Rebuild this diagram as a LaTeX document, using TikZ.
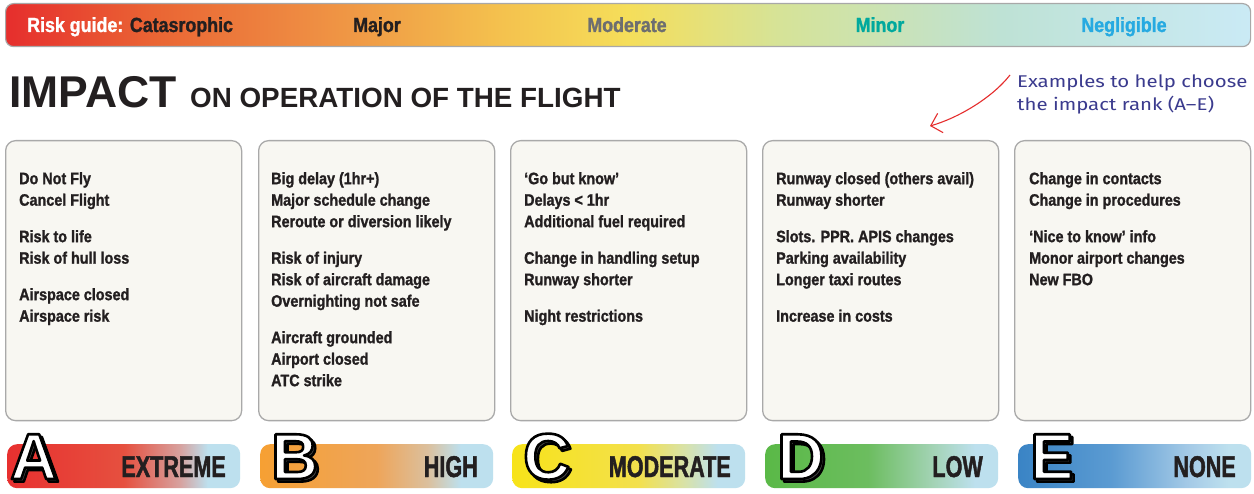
\documentclass[tikz,border=0pt]{standalone}
\usepackage{fontspec}
\setmainfont{Liberation Sans}
\newfontfamily\cond{Liberation Sans Bold}[FakeStretch=0.87, FakeBold=1.3]
\newfontfamily\condB{Liberation Sans Bold}[FakeStretch=0.72, FakeBold=1.5]
\newfontfamily\hand{Fira Sans}[FakeStretch=1.2]
\usetikzlibrary{arrows.meta}
\definecolor{ink}{HTML}{231F20}
\definecolor{bargray}{HTML}{A8A8A8}
\definecolor{boxgray}{HTML}{A9A9A9}
\definecolor{boxfill}{HTML}{F8F7F2}
\definecolor{modgray}{HTML}{6D6E70}
\definecolor{minteal}{HTML}{00A99D}
\definecolor{negblue}{HTML}{27AAE1}
\definecolor{handblue}{HTML}{3B3B8E}
\definecolor{arrred}{HTML}{E52D2D}
\definecolor{tbA}{HTML}{E62E2D}
\definecolor{tbB}{HTML}{EA6534}
\definecolor{tbC}{HTML}{EE8B42}
\definecolor{tbD}{HTML}{F4C24E}
\definecolor{tbE}{HTML}{F5DE5A}
\definecolor{tbF}{HTML}{D6E397}
\definecolor{tbG}{HTML}{BEE2D5}
\definecolor{tbH}{HTML}{CAEAF5}
\definecolor{lblue}{HTML}{BDE0EE}
\definecolor{aA}{HTML}{E8302F}
\definecolor{aB}{HTML}{E6503F}
\definecolor{aC}{HTML}{D7A19E}
\definecolor{bA}{HTML}{F6A033}
\definecolor{bB}{HTML}{EEA55A}
\definecolor{bC}{HTML}{DBC09E}
\definecolor{cA}{HTML}{F7E319}
\definecolor{cB}{HTML}{F3E04C}
\definecolor{cC}{HTML}{D8E2A8}
\definecolor{dA}{HTML}{5AB947}
\definecolor{dB}{HTML}{6CBD5F}
\definecolor{dC}{HTML}{A3D3B5}
\definecolor{eA}{HTML}{3A84C5}
\definecolor{eB}{HTML}{5B9BD2}
\definecolor{eC}{HTML}{A6CBE7}
\pgfdeclarehorizontalshading{topbar}{100bp}{color(0bp)=(tbA); color(25bp)=(tbA); color(31bp)=(tbB); color(37bp)=(tbC); color(45bp)=(tbD); color(50bp)=(tbE); color(56bp)=(tbF); color(65bp)=(tbG); color(75bp)=(tbH); color(100bp)=(tbH)}
\pgfdeclarehorizontalshading{shA}{100bp}{color(0bp)=(aA); color(25bp)=(aA); color(50bp)=(aB); color(62bp)=(aC); color(68bp)=(lblue); color(100bp)=(lblue)}
\pgfdeclarehorizontalshading{shB}{100bp}{color(0bp)=(bA); color(25bp)=(bA); color(50bp)=(bB); color(61bp)=(bC); color(68bp)=(lblue); color(100bp)=(lblue)}
\pgfdeclarehorizontalshading{shC}{100bp}{color(0bp)=(cA); color(25bp)=(cA); color(52bp)=(cB); color(62bp)=(cC); color(69bp)=(lblue); color(100bp)=(lblue)}
\pgfdeclarehorizontalshading{shD}{100bp}{color(0bp)=(dA); color(25bp)=(dA); color(47bp)=(dB); color(61bp)=(dC); color(70bp)=(lblue); color(100bp)=(lblue)}
\pgfdeclarehorizontalshading{shE}{100bp}{color(0bp)=(eA); color(25bp)=(eA); color(45bp)=(eB); color(62bp)=(eC); color(70bp)=(lblue); color(100bp)=(lblue)}
\tikzset{
  topbarbox/.style={draw=bargray, line width=1.2pt, rounded corners=8pt, shading=topbar, minimum width=1245pt, minimum height=43pt, anchor=north west, inner sep=0pt},
  toptext/.style={font=\cond\fontsize{20.5}{24}\selectfont, anchor=base, inner sep=0pt},
  infobox/.style={draw=boxgray, line width=1.3pt, fill=boxfill, rounded corners=10pt, minimum width=236pt, minimum height=280pt, anchor=north west, inner sep=0pt},
  infotext/.style={font=\cond\fontsize{16.5}{21.5}\selectfont, text=ink, align=left, anchor=north west, inner sep=0pt},
  rankbar/.style={rounded corners=10pt, minimum width=233pt, minimum height=44pt, anchor=north west, inner sep=0pt},
  ranklabel/.style={font=\condB\fontsize{30}{34}\selectfont, text=ink, anchor=base east, inner sep=0pt},
  bigletter/.style={font=\bfseries\fontsize{65}{70}\selectfont, anchor=base west, inner sep=0pt},
}
\newcommand{\outl}[1]{\special{pdf:literal direct 2 Tr 2.6 w 1 j 0 0 0 RG}#1\special{pdf:literal direct 0 Tr}}
\newcommand{\rankletter}[4]{% name, x, y, letter
  \node[bigletter, text=black!70] at ({#2+2.6},{#3+2.6}) {\outl{#4}};
  \node[bigletter, text=white] (#1) at (#2,#3) {\outl{#4}};
}
\begin{document}
\begin{tikzpicture}[x=1pt,y=-1pt]
\useasboundingbox (0,0) rectangle (1254,494);
\fill[white] (0,0) rectangle (1254,494);
% rank bars and letters (drawn first so the outline trick sees a clean text state)
\node[rankbar, shading=shA] (rA) at (7,444) {};
\node[rankbar, shading=shB] (rB) at (260,444) {};
\node[rankbar, shading=shC] (rC) at (512,444) {};
\node[rankbar, shading=shD] (rD) at (765,444) {};
\node[rankbar, shading=shE] (rE) at (1018,444) {};
\rankletter{lA}{10}{479}{A}
\rankletter{lB}{271}{479}{B}
\rankletter{lC}{523}{479}{C}
\rankletter{lD}{777}{479}{D}
\rankletter{lE}{1030}{479}{E}
% top risk bar
\node[topbarbox] (topbar) at (5,3) {};
\node[toptext, anchor=base west] (tcat) at (27,32) {\textcolor{white}{Risk guide: }\textcolor{ink}{Catasrophic}};
\node[toptext, text=ink] (tmaj) at (377,32) {Major};
\node[toptext, text=modgray] (tmod) at (627,32) {Moderate};
\node[toptext, text=minteal] (tmin) at (880,32) {Minor};
\node[toptext, text=negblue] (tneg) at (1124,32) {Negligible};
% title
\node[font=\bfseries\fontsize{44.5}{48}\selectfont, text=ink, anchor=base west, inner sep=0pt] (title) at (9,108) {IMPACT};
\node[font=\bfseries\fontsize{27.8}{30}\selectfont, text=ink, anchor=base west, inner sep=0pt] (subtitle) at (190,108) {ON OPERATION OF THE FLIGHT};
% annotation
\node[font=\hand\fontsize{17}{23}\selectfont, text=handblue, align=left, anchor=base west, inner sep=0pt] (note) at (1017,111) {Examples to help choose\\the impact rank (A–E)};
\coordinate (arrS) at (1010,75);
\coordinate (arrE) at (930,126);
\draw[arrred, line width=1.1pt, -{Straight Barb[length=10pt,width=20pt]}] (arrS) .. controls (992,98) and (958,118) .. (arrE);
% boxes
\node[infobox] (b1) at (5,140) {};
\node[infobox] (b2) at (258,140) {};
\node[infobox] (b3) at (510,140) {};
\node[infobox] (b4) at (762,140) {};
\node[infobox] (b5) at (1014,140) {};
\node[infotext] (t1) at (19,172) {Do Not Fly\\Cancel Flight\\[15pt]Risk to life\\Risk of hull loss\\[15pt]Airspace closed\\Airspace risk};
\node[infotext] (t2) at (271,172) {Big delay (1hr+)\\Major schedule change\\Reroute or diversion likely\\[15pt]Risk of injury\\Risk of aircraft damage\\Overnighting not safe\\[15pt]Aircraft grounded\\Airport closed\\ATC strike};
\node[infotext] (t3) at (524,172) {‘Go but know’\\Delays < 1hr\\Additional fuel required\\[15pt]Change in handling setup\\Runway shorter\\[15pt]Night restrictions};
\node[infotext] (t4) at (776,172) {Runway closed (others avail)\\Runway shorter\\[15pt]Slots. PPR. APIS changes\\Parking availability\\Longer taxi routes\\[15pt]Increase in costs};
\node[infotext] (t5) at (1029,172) {Change in contacts\\Change in procedures\\[15pt]‘Nice to know’ info\\Monor airport changes\\New FBO};
% rank labels
\node[ranklabel] (xA) at (226,477) {EXTREME};
\node[ranklabel] (xB) at (478,477) {HIGH};
\node[ranklabel] (xC) at (731,477) {MODERATE};
\node[ranklabel] (xD) at (983,477) {LOW};
\node[ranklabel] (xE) at (1236,477) {NONE};
\end{tikzpicture}
\end{document}
